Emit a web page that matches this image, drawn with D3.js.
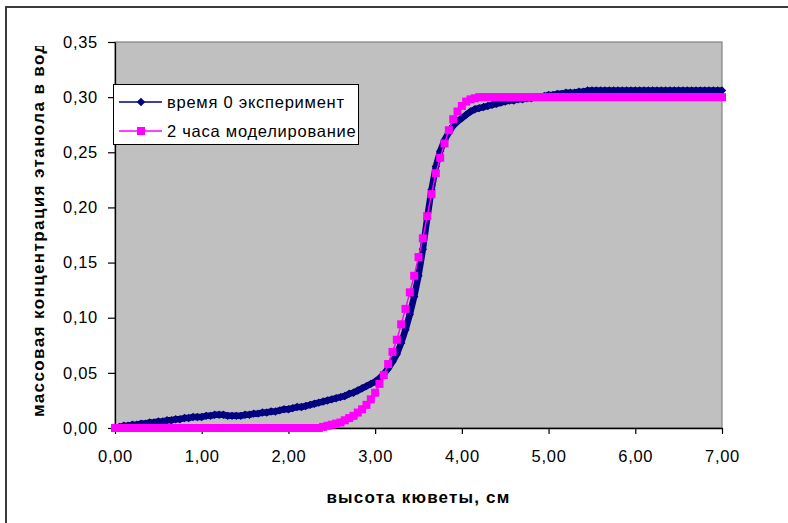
<!DOCTYPE html>
<html><head><meta charset="utf-8">
<script src="https://cdn.jsdelivr.net/npm/d3@7"></script>
<style>
html,body{margin:0;padding:0;background:#fff;}
svg{display:block;}
text{font-family:"Liberation Sans",Arial,sans-serif;}
</style></head>
<body>
<script>
// ---- data ----
const heights = [
 0.00,0.05,0.10,0.15,0.20,0.25,0.30,0.35,0.40,0.45,
 0.50,0.55,0.60,0.65,0.70,0.75,0.80,0.85,0.90,0.95,
 1.00,1.05,1.10,1.15,1.20,1.25,1.30,1.35,1.40,1.45,
 1.50,1.55,1.60,1.65,1.70,1.75,1.80,1.85,1.90,1.95,
 2.00,2.05,2.10,2.15,2.20,2.25,2.30,2.35,2.40,2.45,
 2.50,2.55,2.60,2.65,2.70,2.75,2.80,2.85,2.90,2.95,
 3.00,3.05,3.10,3.15,3.20,3.25,3.30,3.35,3.40,3.45,
 3.50,3.55,3.60,3.65,3.70,3.75,3.80,3.85,3.90,3.95,
 4.00,4.05,4.10,4.15,4.20,4.25,4.30,4.35,4.40,4.45,
 4.50,4.55,4.60,4.65,4.70,4.75,4.80,4.85,4.90,4.95,
 5.00,5.05,5.10,5.15,5.20,5.25,5.30,5.35,5.40,5.45,
 5.50,5.55,5.60,5.65,5.70,5.75,5.80,5.85,5.90,5.95,
 6.00,6.05,6.10,6.15,6.20,6.25,6.30,6.35,6.40,6.45,
 6.50,6.55,6.60,6.65,6.70,6.75,6.80,6.85,6.90,6.95,
 7.00];

const experiment0h = [
 0.000,0.001,0.002,0.002,0.003,0.003,0.004,0.004,0.005,0.005,
 0.006,0.006,0.007,0.007,0.008,0.008,0.009,0.009,0.010,0.010,
 0.010,0.011,0.011,0.012,0.012,0.012,0.011,0.011,0.011,0.011,
 0.012,0.012,0.013,0.013,0.014,0.014,0.015,0.015,0.016,0.017,
 0.017,0.018,0.019,0.019,0.020,0.021,0.022,0.023,0.024,0.025,
 0.026,0.027,0.028,0.029,0.031,0.032,0.034,0.036,0.038,0.040,
 0.042,0.045,0.049,0.054,0.060,0.067,0.077,0.089,0.103,0.119,
 0.138,0.162,0.190,0.216,0.237,0.251,0.261,0.268,0.274,0.278,
 0.281,0.284,0.287,0.289,0.290,0.291,0.292,0.293,0.294,0.295,
 0.296,0.297,0.297,0.298,0.298,0.299,0.299,0.300,0.300,0.301,
 0.302,0.302,0.303,0.303,0.304,0.304,0.304,0.305,0.305,0.306,
 0.306,0.306,0.306,0.306,0.306,0.306,0.306,0.306,0.306,0.306,
 0.306,0.306,0.306,0.306,0.306,0.306,0.306,0.306,0.306,0.306,
 0.306,0.306,0.306,0.306,0.306,0.306,0.306,0.306,0.306,0.306,
 0.306];

const model2h = [
 0.000,0.000,0.000,0.000,0.000,0.000,0.000,0.000,0.000,0.000,
 0.000,0.000,0.000,0.000,0.000,0.000,0.000,0.000,0.000,0.000,
 0.000,0.000,0.000,0.000,0.000,0.000,0.000,0.000,0.000,0.000,
 0.000,0.000,0.000,0.000,0.000,0.000,0.000,0.000,0.000,0.000,
 0.000,0.000,0.000,0.000,0.000,0.000,0.000,0.000,0.001,0.002,
 0.003,0.004,0.005,0.007,0.009,0.011,0.014,0.017,0.021,0.026,
 0.032,0.040,0.048,0.058,0.069,0.080,0.094,0.108,0.123,0.138,
 0.155,0.172,0.192,0.212,0.231,0.245,0.258,0.270,0.280,0.287,
 0.292,0.296,0.298,0.299,0.300,0.300,0.300,0.300,0.300,0.300,
 0.300,0.300,0.300,0.300,0.300,0.300,0.300,0.300,0.300,0.300,
 0.300,0.300,0.300,0.300,0.300,0.300,0.300,0.300,0.300,0.300,
 0.300,0.300,0.300,0.300,0.300,0.300,0.300,0.300,0.300,0.300,
 0.300,0.300,0.300,0.300,0.300,0.300,0.300,0.300,0.300,0.300,
 0.300,0.300,0.300,0.300,0.300,0.300,0.300,0.300,0.300,0.300,
 0.300];

const xTicks = [0,1,2,3,4,5,6,7];
const yTicks = [0,0.05,0.10,0.15,0.20,0.25,0.30,0.35];
const seriesNames = ["время 0 эксперимент","2 часа моделирование"];
const xTitle = "высота кюветы, см";
const yTitle = "массовая концентрация этанола в воде";

// ---- layout ----
const W = 788, H = 523;
const L = 115, R = 722, T = 42, B = 428;
const fmt = v => v.toFixed(2).replace(".", ",");

const svg = d3.select("body").append("svg").attr("width", W).attr("height", H);

// outer chart frame
svg.append("rect").attr("x",6).attr("y",7).attr("width",W+20).attr("height",H+20)
  .attr("fill","#fff").attr("stroke","#3a3a3a").attr("stroke-width",2);

const x = d3.scaleLinear().domain([0,7]).range([L,R]);
const y = d3.scaleLinear().domain([0,0.35]).range([B,T]);

// plot area
svg.append("rect").attr("x",L).attr("y",T).attr("width",R-L).attr("height",B-T)
  .attr("fill","#c0c0c0").attr("stroke","#808080").attr("stroke-width",1.2);

// axes
const gx = svg.append("g").attr("transform",`translate(0,${B})`)
  .call(d3.axisBottom(x).tickValues(xTicks).tickFormat(fmt).tickSize(6).tickSizeOuter(0).tickPadding(16));
const gy = svg.append("g").attr("transform",`translate(${L},0)`)
  .call(d3.axisLeft(y).tickValues(yTicks).tickFormat(fmt).tickSize(7).tickSizeOuter(0).tickPadding(10));
[gx,gy].forEach(g=>{
  g.select(".domain").attr("stroke","#000").attr("stroke-width",1.3);
  g.selectAll(".tick line").attr("stroke","#000").attr("stroke-width",1.2);
  g.selectAll(".tick text").attr("fill","#000").attr("font-size",16.5).attr("letter-spacing",0.7)
   .attr("font-family","'Liberation Sans',Arial,sans-serif");
});

// titles
svg.append("text").attr("x",(L+R)/2).attr("y",503).attr("text-anchor","middle")
  .attr("font-size",17).attr("font-weight","bold").attr("letter-spacing",1.2).attr("fill","#000").text(xTitle);

svg.append("clipPath").attr("id","ytclip").append("rect")
  .attr("x",0).attr("y",46).attr("width",80).attr("height",480);
svg.append("g").attr("clip-path","url(#ytclip)")
  .append("text").attr("transform","translate(44,417) rotate(-90)")
  .attr("text-anchor","start").attr("font-size",17).attr("font-weight","bold").attr("letter-spacing",1.4)
  .attr("fill","#000").text(yTitle);

// series
const line = d3.line().x(d=>x(d[0])).y(d=>y(d[1]));
const dExp = heights.map((h,i)=>[h,experiment0h[i]]);
const dMod = heights.map((h,i)=>[h,model2h[i]]);
const diamond = r => `M0,${-r}L${r},0L0,${r}L${-r},0Z`;
const NAVY = "#000080", MAG = "#ff00ff";

svg.append("path").datum(dExp).attr("d",line).attr("fill","none").attr("stroke",NAVY)
  .attr("stroke-width",6.5).attr("stroke-linejoin","round");
svg.append("g").selectAll("path").data(dExp).join("path")
  .attr("transform",d=>`translate(${x(d[0])},${y(d[1])})`).attr("d",diamond(4.2)).attr("fill",NAVY);

svg.append("path").datum(dMod).attr("d",line).attr("fill","none").attr("stroke",MAG).attr("stroke-width",1.5);
svg.append("g").selectAll("rect").data(dMod).join("rect")
  .attr("x",d=>x(d[0])-4).attr("y",d=>y(d[1])-4).attr("width",8).attr("height",8).attr("fill",MAG);

// legend
const lg = svg.append("g");
lg.append("rect").attr("x",113.5).attr("y",84.5).attr("width",245).attr("height",60)
  .attr("fill","#fff").attr("stroke","#000").attr("stroke-width",1);
const rows = [{y:102,c:NAVY,m:"d"},{y:131,c:MAG,m:"s"}];
rows.forEach((r,i)=>{
  lg.append("line").attr("x1",119).attr("x2",162).attr("y1",r.y).attr("y2",r.y).attr("stroke",r.c).attr("stroke-width",1.5);
  if(r.m==="d") lg.append("path").attr("transform",`translate(141,${r.y})`).attr("d",diamond(4.2)).attr("fill",r.c);
  else lg.append("rect").attr("x",141-4).attr("y",r.y-4).attr("width",8).attr("height",8).attr("fill",r.c);
  lg.append("text").attr("x",167).attr("y",r.y+5.5).attr("font-size",16.5).attr("letter-spacing",0.75)
    .attr("fill","#000").text(seriesNames[i]);
});
</script>
</body></html>
